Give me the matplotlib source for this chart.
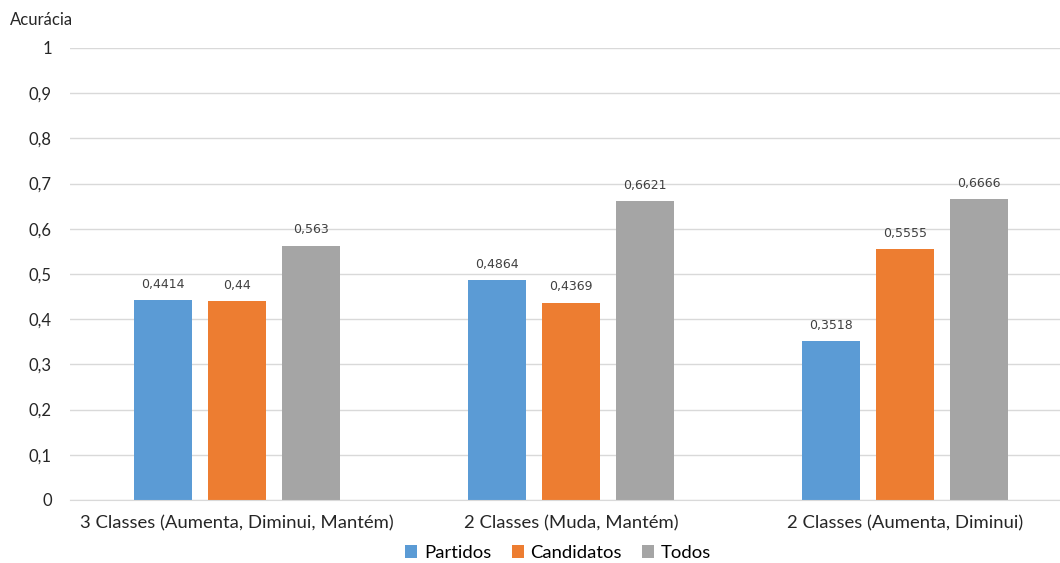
import numpy as np
import matplotlib.pyplot as plt
from matplotlib.ticker import FuncFormatter

categorias = ['3 Classes (Aumenta, Diminui, Mantém)',
              '2 Classes (Muda, Mantém)',
              '2 Classes (Aumenta, Diminui)']
partidos = [0.4414, 0.4864, 0.3518]
candidatos = [0.44, 0.4369, 0.5555]
todos = [0.563, 0.6621, 0.6666]

series = [('Partidos', partidos, '#5b9bd5'),
          ('Candidatos', candidatos, '#ed7d31'),
          ('Todos', todos, '#a5a5a5')]

plt.rcParams['font.family'] = ['Lato', 'DejaVu Sans']

fig = plt.figure(figsize=(10.6, 5.63), dpi=100)
ax = fig.add_axes([70 / 1060, 63 / 563, 1002 / 1060, 452 / 563])

x = np.arange(len(categorias))
largura = 0.174
passo = 0.2216

def fmt(v):
    return ('%g' % v).replace('.', ',')

for i, (nome, vals, cor) in enumerate(series):
    pos = x + (i - 1) * passo
    ax.bar(pos, vals, largura, color=cor, label=nome, zorder=3)
    for p, v in zip(pos, vals):
        ax.text(p, v + 0.02, fmt(v), ha='center', va='bottom',
                fontsize=9, color='#404040', family=['DejaVu Sans'])

ax.set_xlim(-0.5, 2.5)
ax.set_ylim(0, 1)
ax.set_yticks(np.arange(0, 1.01, 0.1))
ax.yaxis.set_major_formatter(FuncFormatter(lambda v, _: fmt(round(v, 1))))
ax.set_xticks(x)
ax.set_xticklabels(categorias, fontsize=13.3)
ax.tick_params(axis='both', length=0, colors='#404040')
ax.tick_params(axis='y', labelsize=12, pad=13)
ax.tick_params(axis='x', pad=11)
for lbl in ax.get_xticklabels() + ax.get_yticklabels():
    lbl.set_color('#262626')

ax.grid(axis='y', color='#d9d9d9', linewidth=1, zorder=0)
for s in ['top', 'right', 'left']:
    ax.spines[s].set_visible(False)
ax.spines['bottom'].set_color('#d9d9d9')
ax.spines['bottom'].set_zorder(4)

fig.text(10 / 1060, 1 - 20 / 563, 'Acurácia', fontsize=12, color='#262626',
         va='center', ha='left')

fig.legend(loc='center', bbox_to_anchor=(558 / 1060, 1 - 553 / 563), ncol=3,
           frameon=False, fontsize=13.3, handlelength=0.65, handleheight=0.65,
           handletextpad=0.35, columnspacing=1.1)

fig.savefig('out.png', dpi=100)
